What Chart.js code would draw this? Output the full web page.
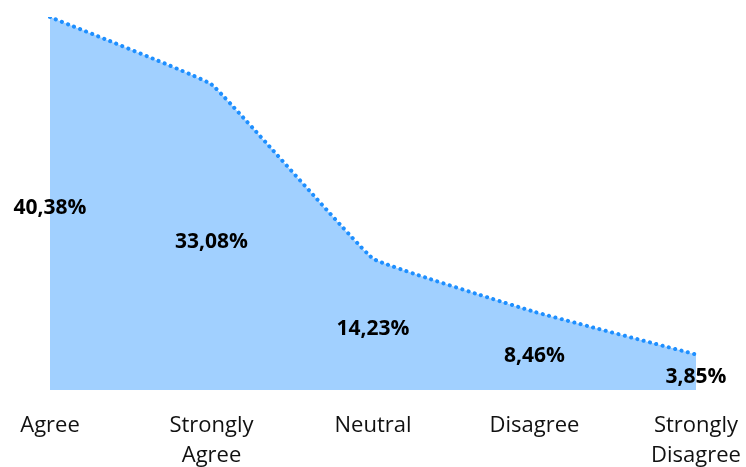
<!DOCTYPE html>
<html>
<head>
<meta charset="utf-8">
<script src="https://cdn.jsdelivr.net/npm/chart.js@4/dist/chart.umd.min.js"></script>
<style>
  html, body { margin: 0; padding: 0; background: #fff; }
  #wrap { width: 746px; height: 467px; }
</style>
</head>
<body>
<div id="wrap"><canvas id="answers" width="746" height="467"></canvas></div>
<script>
// answer categories (multi-line labels) and their shares in percent
var categories = [["Agree"], ["Strongly", "Agree"], ["Neutral"], ["Disagree"], ["Strongly", "Disagree"]];
var shares = [40.38, 33.08, 14.23, 8.46, 3.85];

// writes the value in the middle of the filled area under each point
var midLabels = {
    id: 'midLabels',
    afterDatasetsDraw: function(chart) {
        var ctx = chart.ctx;
        var xScale = chart.scales.x;
        var yScale = chart.scales.y;
        ctx.save();
        ctx.font = 'bold 21px "Open Sans", sans-serif';
        ctx.fillStyle = '#000';
        ctx.textAlign = 'center';
        ctx.textBaseline = 'middle';
        shares.forEach(function(v, i) {
            var x = xScale.getPixelForValue(i);
            var y = (yScale.getPixelForValue(v) + yScale.getPixelForValue(0)) / 2 + 5;
            ctx.fillText(v.toFixed(2).replace('.', ',') + '%', x, y);
        });
        ctx.restore();
    }
};

var answersChart = new Chart(document.getElementById('answers'), {
    type: 'line',
    data: {
        labels: categories,
        datasets: [{
            data: shares,
            borderColor: '#1e8fff',
            backgroundColor: '#a1d0ff',
            borderWidth: 4,
            borderDash: [0.1, 6.4],
            borderCapStyle: 'round',
            pointRadius: 0,
            tension: 0.07,
            fill: 'origin'
        }]
    },
    options: {
        responsive: false,
        animation: false,
        layout: { padding: { left: 50, right: 50, top: 17, bottom: 0 } },
        plugins: {
            legend: { display: false },
            tooltip: { enabled: false }
        },
        scales: {
            x: {
                offset: false,
                grid: { display: false },
                border: { display: false },
                ticks: {
                    color: '#111',
                    padding: 13,
                    maxRotation: 0,
                    font: { family: '"Open Sans", sans-serif', size: 22, lineHeight: 1.36 }
                },
                afterFit: function(scale) {
                    // keep the plot edges where the reference has them
                    scale.paddingLeft = 0;
                    scale.paddingRight = 0;
                    scale.height = 77;
                }
            },
            y: {
                display: false,
                min: 0,
                max: 40.38
            }
        }
    },
    plugins: [midLabels]
});
</script>
</body>
</html>
